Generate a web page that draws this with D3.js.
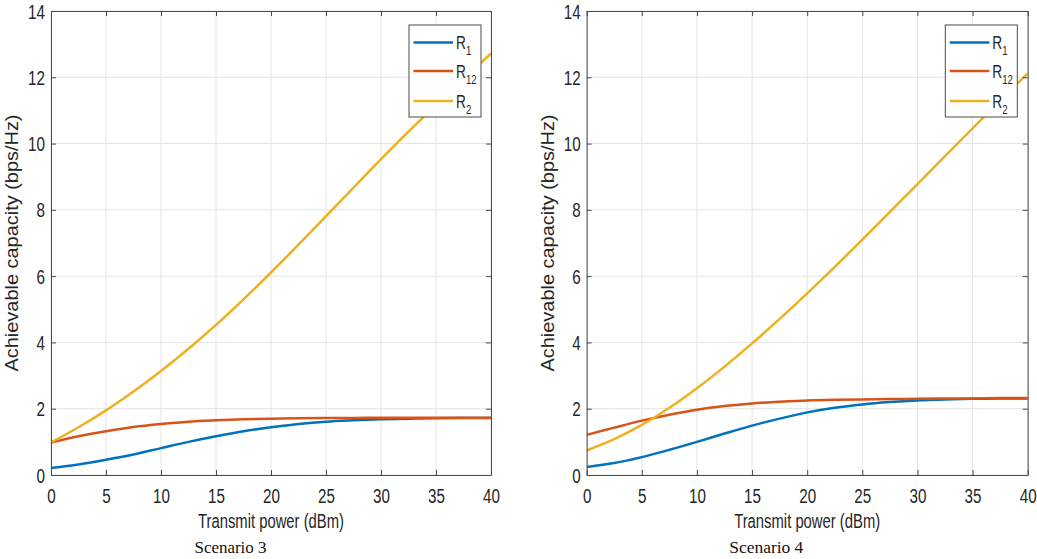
<!DOCTYPE html>
<html><head><meta charset="utf-8">
<script src="https://cdn.jsdelivr.net/npm/d3@7"></script>
<style>
html,body{margin:0;padding:0;background:#fff;}
svg{display:block;font-family:"Liberation Sans",Arial,sans-serif;}
</style></head>
<body>
<svg id="chart" width="1037" height="559"></svg>
<script>
// ---- data ----
const power = [0,2.5,5,7.5,10,12.5,15,17.5,20,22.5,25,27.5,30,32.5,35,37.5,40];
const xTickValues = [0,5,10,15,20,25,30,35,40];
const yTickValues = [0,2,4,6,8,10,12,14];
const seriesNames = ["R1","R12","R2"];
const seriesSubs = ["1","12","2"];

const s3R1  = [0.21,0.32,0.46,0.62,0.81,1.00,1.17,1.32,1.44,1.54,1.61,1.65,1.68,1.70,1.71,1.72,1.72];
const s3R12 = [0.98,1.17,1.32,1.45,1.54,1.61,1.65,1.68,1.70,1.71,1.72,1.72,1.73,1.73,1.73,1.73,1.73];
const s3R2  = [0.98,1.44,1.95,2.52,3.14,3.81,4.53,5.30,6.11,6.95,7.81,8.67,9.53,10.36,11.16,11.94,12.72];

const s4R1  = [0.24,0.36,0.54,0.76,1.00,1.25,1.49,1.70,1.89,2.03,2.13,2.20,2.25,2.28,2.30,2.31,2.31];
const s4R12 = [1.21,1.43,1.64,1.82,1.97,2.08,2.16,2.21,2.25,2.27,2.28,2.29,2.30,2.31,2.31,2.32,2.32];
const s4R2  = [0.74,1.08,1.51,2.03,2.62,3.27,3.97,4.71,5.48,6.28,7.10,7.94,8.78,9.62,10.46,11.29,12.12];

const colors = ["#0072BD","#D95319","#EDB120"];
const xLabel = "Transmit power (dBm)";
const yLabel = "Achievable capacity (bps/Hz)";

const panels = [
  {caption:"Scenario 3", series:[s3R1,s3R12,s3R2], x0:51, x1:491, legendX:409, capW:72, capX:230.5},
  {caption:"Scenario 4", series:[s4R1,s4R12,s4R2], x0:586.7, x1:1027.7, legendX:945.3, capW:74, capX:766.3}
];

const svg = d3.select("#chart");
const yTop = 11, yBot = 475;
const SQ = 0.78; // horizontal squeeze of the text in the reference
const axisCol = "#4a4a4a", textCol = "#262626";
const FONT = "Liberation Sans, Arial, sans-serif";

panels.forEach((p,pi) => {
  const x = d3.scaleLinear().domain([0,40]).range([p.x0,p.x1]);
  const y = d3.scaleLinear().domain([0,14]).range([yBot,yTop]);
  const g = svg.append("g");

  // grid
  g.append("g").selectAll("line").data(xTickValues).join("line")
    .attr("x1",d=>x(d)).attr("x2",d=>x(d)).attr("y1",yTop).attr("y2",yBot)
    .attr("stroke","#e3e3e3").attr("stroke-width",1);
  g.append("g").selectAll("line").data(yTickValues).join("line")
    .attr("x1",p.x0).attr("x2",p.x1).attr("y1",d=>y(d)).attr("y2",d=>y(d))
    .attr("stroke","#e3e3e3").attr("stroke-width",1);

  // clip
  const cid = "clip"+pi;
  svg.append("clipPath").attr("id",cid).append("rect")
    .attr("x",p.x0).attr("y",yTop).attr("width",p.x1-p.x0).attr("height",yBot-yTop);

  // lines
  const line = d3.line().x((d,i)=>x(power[i])).y(d=>y(d)).curve(d3.curveCatmullRom.alpha(0.5));
  g.append("g").attr("clip-path",`url(#${cid})`).selectAll("path").data(p.series).join("path")
    .attr("d",d=>line(d)).attr("fill","none")
    .attr("stroke",(d,i)=>colors[i]).attr("stroke-width",2.5);

  // axes (inward ticks on all four sides)
  const styleAxis = sel => {
    sel.select(".domain").attr("stroke",axisCol);
    sel.selectAll(".tick line").attr("stroke",axisCol);
  };
  const bottom = g.append("g").attr("transform",`translate(0,${yBot})`)
    .call(d3.axisBottom(x).tickValues(xTickValues).tickSizeInner(-5).tickSizeOuter(0).tickPadding(0));
  styleAxis(bottom);
  bottom.selectAll(".tick text").attr("y",0).attr("dy","0").attr("transform",`translate(0,28) scale(${SQ},1)`)
    .attr("font-size",19.5).attr("fill",textCol).attr("font-family",FONT);

  const top = g.append("g").attr("transform",`translate(0,${yTop})`)
    .call(d3.axisTop(x).tickValues(xTickValues).tickSizeInner(-5).tickSizeOuter(0).tickFormat(""));
  styleAxis(top);

  const left = g.append("g").attr("transform",`translate(${p.x0},0)`)
    .call(d3.axisLeft(y).tickValues(yTickValues).tickSizeInner(-5).tickSizeOuter(0).tickPadding(0));
  styleAxis(left);
  left.selectAll(".tick text").attr("x",0).attr("dy","0.36em").attr("transform",`translate(-6,0) scale(${SQ},1)`)
    .attr("font-size",19.5).attr("fill",textCol).attr("font-family",FONT);

  const right = g.append("g").attr("transform",`translate(${p.x1},0)`)
    .call(d3.axisRight(y).tickValues(yTickValues).tickSizeInner(-5).tickSizeOuter(0).tickFormat(""));
  styleAxis(right);

  // axis labels
  g.append("text").attr("x",(p.x0+p.x1)/2).attr("y",528).attr("text-anchor","middle")
    .attr("font-size",19.5).attr("fill",textCol)
    .attr("textLength",146).attr("lengthAdjust","spacingAndGlyphs").text(xLabel);
  g.append("text").attr("transform",`translate(${p.x0-33},${(yTop+yBot)/2}) rotate(-90)`)
    .attr("text-anchor","middle").attr("font-size",18.5).attr("fill",textCol)
    .attr("textLength",257).attr("lengthAdjust","spacingAndGlyphs").text(yLabel);

  // caption
  g.append("text").attr("x",p.capX).attr("y",553).attr("text-anchor","middle")
    .attr("font-family","Liberation Serif, Times New Roman, serif").attr("font-size",16).attr("fill","#111")
    .attr("textLength",p.capW).attr("lengthAdjust","spacingAndGlyphs").text(p.caption);

  // legend
  const lg = g.append("g");
  lg.append("rect").attr("x",p.legendX).attr("y",25).attr("width",72).attr("height",92)
    .attr("fill","#fff").attr("stroke",axisCol).attr("stroke-width",1);
  const rows = [42.5,71,101];
  seriesNames.forEach((nm,i) => {
    lg.append("line").attr("x1",p.legendX+4.5).attr("x2",p.legendX+44).attr("y1",rows[i]).attr("y2",rows[i])
      .attr("stroke",colors[i]).attr("stroke-width",2.5);
    const t = lg.append("text").attr("transform",`translate(${p.legendX+47},${rows[i]+6.5}) scale(0.74,1)`)
      .attr("font-size",18.5).attr("fill",textCol);
    t.append("tspan").text("R");
    t.append("tspan").attr("font-size",13).attr("dy",6).text(seriesSubs[i]);
  });
});
</script>
</body></html>
